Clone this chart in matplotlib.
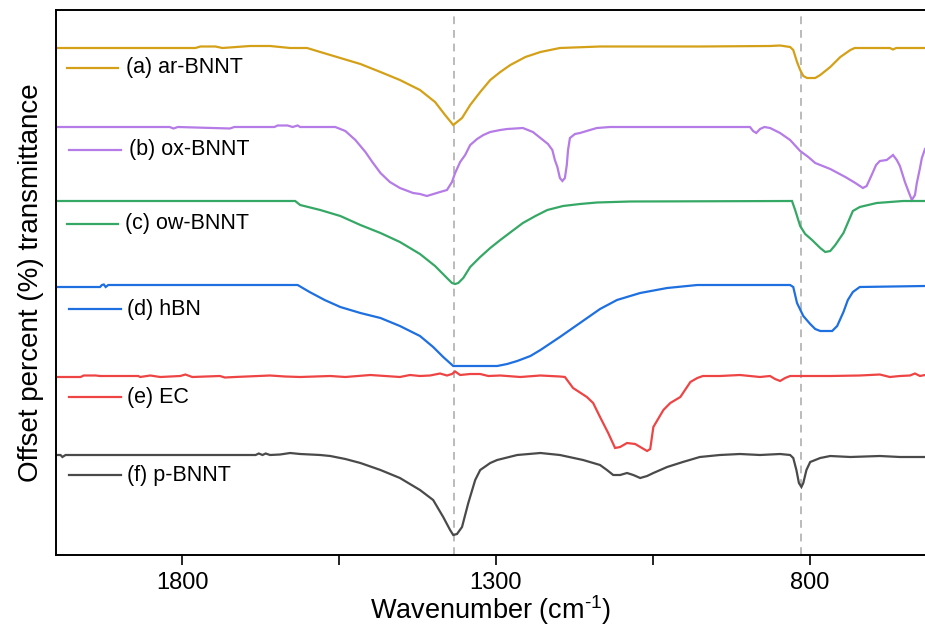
import numpy as np
import matplotlib
matplotlib.use("Agg")
import matplotlib.pyplot as plt

plt.rcParams['font.family'] = ['Liberation Sans', 'DejaVu Sans']
plt.rcParams['mathtext.fontset'] = 'custom'
plt.rcParams['mathtext.rm'] = 'Liberation Sans'
plt.rcParams['mathtext.it'] = 'Liberation Sans'

# FTIR spectra, offset transmittance (arbitrary offset units) vs wavenumber (cm-1)
a_wn = [2002, 1779, 1771, 1747, 1736, 1692, 1660, 1628, 1601, 1580, 1548, 1516, 1484, 1453, 1421, 1397,
        1381, 1368, 1354, 1341, 1325, 1309, 1293, 1277, 1253, 1229, 1198, 1134, 975, 863, 847, 831, 826,
        820, 815, 810, 804, 791, 783, 767, 751, 735, 728, 672, 667, 662, 616]
a_T = [507, 507, 508.5, 508.5, 507, 509, 509, 507, 507, 503, 497, 491, 483, 475, 465, 453,
       440, 430, 437, 450, 463, 475, 483, 490, 498, 503, 507, 508.5, 508.5, 509, 509.5, 508, 505,
       493, 485, 479, 477, 477, 480, 488, 498, 505, 507, 507, 505.5, 507, 507]

b_wn = [2002, 1820, 1814, 1807, 1724, 1717, 1653, 1648, 1632, 1624, 1616, 1612, 1556, 1540, 1524, 1508,
        1497, 1484, 1469, 1453, 1432, 1421, 1410, 1389, 1378, 1370, 1365, 1357, 1349, 1341, 1330, 1320,
        1309, 1293, 1282, 1257, 1241, 1225, 1217, 1210, 1206, 1202, 1198, 1194, 1190, 1187, 1185, 1182,
        1174, 1166, 1150, 1139, 1118, 895, 890, 885, 879, 872, 863, 847, 831, 815, 802, 791, 767, 743,
        727, 715, 709, 701, 694, 688, 677, 667, 661, 656, 648, 642, 637, 632, 629, 624, 621, 616]
b_T = [428, 428, 426.5, 428, 426.5, 428, 428, 429.5, 429.5, 428, 429.5, 428, 428, 424, 415, 403,
       393, 382, 373, 367, 362, 361, 359, 363, 365, 373, 382, 393, 400, 410, 416, 420,
       423, 425, 426, 427, 423, 415, 411, 405, 395, 388, 377, 374, 377, 390, 405, 417,
       421, 422, 425, 427, 428, 428, 424, 422, 426, 428, 427, 422, 415, 404, 398, 392, 386, 378,
       372, 367, 369, 380, 390, 394, 395, 400, 395, 389, 373, 363, 355, 360, 372, 387, 397, 406]

c_wn = [2002, 1620, 1612, 1580, 1548, 1516, 1484, 1453, 1421, 1397, 1378, 1370, 1365, 1360, 1352, 1341,
        1325, 1309, 1293, 1274, 1257, 1237, 1218, 1193, 1166, 1139, 1086, 828, 823, 815, 807, 796,
        783, 775, 767, 759, 746, 731, 720, 693, 651, 616]
c_T = [354, 354, 350, 345, 339, 330, 322, 313, 301, 289, 277, 272, 271, 272, 277, 288,
       298, 307, 315, 324, 332, 339, 345, 349, 351, 352.5, 353.5, 354, 345, 329, 321, 315,
       307, 303, 304, 310, 322, 344, 348, 352, 354, 354]

d_wn = [2002, 1931, 1928, 1925, 1922, 1918, 1616, 1597, 1573, 1548, 1516, 1484, 1453, 1421, 1400, 1384,
        1368, 1298, 1282, 1266, 1245, 1229, 1198, 1166, 1134, 1107, 1070, 1027, 979, 831, 826, 820,
        810, 799, 791, 783, 764, 756, 746, 739, 731, 720, 616]
d_T = [268, 268, 270, 270.5, 268, 270, 270, 263, 255, 248, 242, 237, 229, 219, 208, 198,
       189, 189, 191, 194, 199, 205, 218, 232, 246, 255, 262, 267, 270, 270, 268, 252,
       239, 231, 226, 224, 224, 229, 243, 255, 263, 268, 269]

e_wn = [2002, 1962, 1957, 1938, 1931, 1870, 1867, 1851, 1835, 1803, 1795, 1784, 1740, 1732, 1716, 1660,
        1636, 1612, 1564, 1540, 1500, 1453, 1437, 1421, 1405, 1389, 1378, 1370, 1365, 1357, 1341, 1325,
        1312, 1293, 1261, 1229, 1198, 1190, 1177, 1155, 1145, 1134, 1121, 1110, 1102, 1091, 1078, 1059,
        1054, 1049, 1033, 1022, 1006, 990, 979, 970, 943, 911, 879, 863, 855, 847, 839, 831, 767, 720,
        688, 672, 656, 640, 632, 624, 616]
e_T = [178, 178, 179.5, 179.5, 179, 179, 178, 179.5, 178, 179, 180.5, 178, 179, 177.5, 178, 179.5,
       178.5, 178, 179, 178, 180, 178, 180, 179, 179.5, 181.5, 179.5, 181, 183.5, 180, 181, 181,
       179, 179.5, 178, 179.5, 178.5, 178, 167, 158, 152, 138, 122, 107, 108, 112, 111, 104,
       106, 128, 145, 152, 158, 173, 177, 179, 179, 180, 178, 179, 176, 174, 177, 179, 179, 179.5,
       180.5, 178, 179, 179.5, 181.5, 179, 180]

f_wn = [2002, 1994, 1991, 1986, 1683, 1678, 1672, 1667, 1660, 1644, 1628, 1612, 1580, 1564, 1540, 1516,
        1484, 1453, 1421, 1400, 1384, 1373, 1368, 1362, 1354, 1344, 1333, 1325, 1309, 1298, 1266, 1229,
        1198, 1161, 1134, 1123, 1113, 1102, 1091, 1081, 1070, 1059, 1049, 1027, 1002, 975, 943, 911,
        879, 847, 831, 826, 821, 817, 813, 810, 805, 799, 783, 767, 735, 688, 656, 616]
f_T = [100, 100, 98, 100, 100, 101.5, 100, 101.5, 100, 100.5, 102, 101, 100, 99, 96, 92,
       85, 77, 65, 55, 38, 25, 20, 21, 28, 52, 75, 85, 92, 95, 100, 102,
       100, 95, 90, 85, 80, 80, 82, 80, 77, 79, 82, 88, 93, 98, 100, 101,
       100, 101, 100, 97, 85, 72, 68, 72, 85, 93, 97, 99, 98, 99, 98, 98]

labels = ["(a) ar-BNNT", "(b) ox-BNNT", "(c) ow-BNNT", "(d) hBN", "(e) EC", "(f) p-BNNT"]
colors = ["#D4A017", "#B57BE6", "#36A866", "#1E6FE0", "#EE4444", "#4A4A4A"]
ref_lines = [1367, 813]

W, H = 925, 630
fig = plt.figure(figsize=(W / 100, H / 100), dpi=100)
ax = fig.add_axes([55.5 / W, 1 - 555 / H, (W - 55.5) / W, 545 / H])

series = [(a_wn, a_T), (b_wn, b_T), (c_wn, c_T), (d_wn, d_T), (e_wn, e_T), (f_wn, f_T)]
for (wn, T), col in zip(series, colors):
    ax.plot(wn, T, color=col, linewidth=1.6, solid_joinstyle='miter')

for xv in ref_lines:
    ax.axvline(xv, color="#BBBBBB", linestyle=(0, (4, 3)), linewidth=1.4, zorder=0)

ax.set_xlim(2002, 616)
ax.set_ylim(0, 545)

# hand-placed labels next to each trace (pixel positions in the original figure)
def to_ax(px, py):
    return (px - 55.5) / (W - 55.5), (555 - py) / 545

key_pos = [(67, 118, 126, 68), (69, 121, 129, 150), (67, 118, 125, 224),
           (69, 121, 127, 309), (69, 121, 127, 397), (69, 121, 127, 475)]
for (x0, x1, xt, y), lab, col in zip(key_pos, labels, colors):
    p0 = to_ax(x0, y)
    p1 = to_ax(x1, y)
    ax.plot([p0[0], p1[0]], [p0[1], p1[1]], color=col, linewidth=1.6, transform=ax.transAxes)
    pt = to_ax(xt, y)
    ax.text(pt[0], pt[1], lab, transform=ax.transAxes, fontsize=15.5, va='center', ha='left')

ax.set_xticks([1800, 1300, 800])
ax.set_xticks([1550, 1050], minor=True)
ax.tick_params(axis='x', which='both', direction='out', length=7, width=1.2, labelsize=17, pad=5)
ax.set_yticks([])
ax.spines['right'].set_visible(False)
for s in ['left', 'bottom', 'top']:
    ax.spines[s].set_linewidth(1.4)

ax.set_xlabel("Wavenumber (cm$^{\\text{-1}}$)", fontsize=19.5, labelpad=0)
ax.set_ylabel("Offset percent (%) transmittance", fontsize=20, labelpad=8)

fig.savefig("out.png", dpi=100)
